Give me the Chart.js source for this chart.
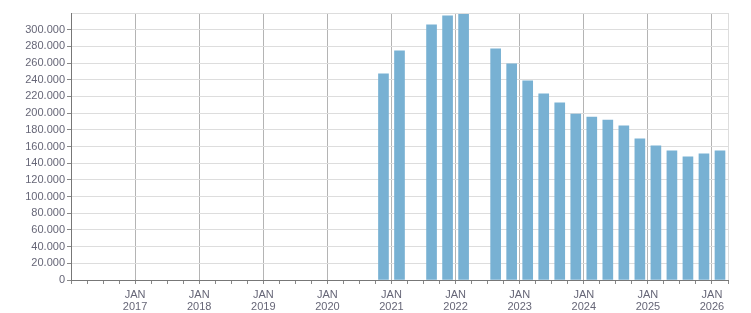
<!DOCTYPE html>
<html>
<head>
<meta charset="utf-8">
<script src="https://cdn.jsdelivr.net/npm/chart.js@4.4.1/dist/chart.umd.min.js"></script>
<style>
  body { margin: 0; background: #fff; }
  #wrap { width: 751px; height: 313px; }
</style>
</head>
<body>
<div id="wrap"><canvas id="chart"></canvas></div>
<script>
'use strict';

// DATA (quarterly)
const periods = [
  '2020 Q4', '2021 Q1', '2021 Q3', '2021 Q4', '2022 Q1', '2022 Q3', '2022 Q4',
  '2023 Q1', '2023 Q2', '2023 Q3', '2023 Q4', '2024 Q1', '2024 Q2', '2024 Q3',
  '2024 Q4', '2025 Q1', '2025 Q2', '2025 Q3', '2025 Q4', '2026 Q1'
];
const values = [
  247000, 274600, 305800, 316500, 318400, 277000, 259000,
  238600, 223000, 212200, 199000, 195400, 191800, 184700,
  169100, 160700, 154700, 147500, 151100, 154700
];
const firstYear = 2016;
const lastYear = 2026;
const monthLabel = 'JAN';
const yMax = 320000;
const yStep = 20000;

// turns '2021 Q3' into a position on the time axis (middle of the quarter)
function periodToX(p) {
  let parts = p.split(' Q');
  return Number(parts[0]) + (Number(parts[1]) - 1) / 4 + 0.125;
}

function isYear(v) {
  return Math.abs(v - Math.round(v)) < 1e-6;
}

// 300000 -> 300.000
function formatNum(v) {
  return String(Math.round(v)).replace(/\B(?=(\d{3})+(?!\d))/g, '.');
}

let points = [];
for (let i = 0; i < periods.length; i++) {
  points.push({ x: periodToX(periods[i]), y: values[i] });
}

const xMin = firstYear;
const xMax = lastYear + 0.25;

Chart.defaults.font.family = '"Liberation Sans", Arial, sans-serif';
Chart.defaults.font.size = 11;
Chart.defaults.color = '#666677';

const ctx = document.getElementById('chart');

new Chart(ctx, {
  type: 'bar',
  data: {
    datasets: [{
      data: points,
      backgroundColor: '#78b1d3',
      borderWidth: 0,
      barThickness: 10
    }]
  },
  options: {
    responsive: true,
    maintainAspectRatio: false,
    animation: false,
    layout: { padding: { top: 13, right: 23, left: 0, bottom: 0 } },
    plugins: {
      legend: { display: false },
      tooltip: { enabled: false }
    },
    scales: {
      x: {
        type: 'linear',
        min: xMin,
        max: xMax,
        offset: false,
        afterBuildTicks: (scale) => {
          let t = [];
          for (let v = xMin; v <= xMax + 1e-6; v += 0.25) {
            t.push({ value: v });
          }
          scale.ticks = t;
        },
        afterFit: (scale) => { scale.height = 33; },
        ticks: {
          autoSkip: false,
          maxRotation: 0,
          padding: 5,
          font: { lineHeight: 1.1 },
          callback: (v) => {
            if (isYear(v) && Math.round(v) > firstYear) {
              return [monthLabel, String(Math.round(v))];
            }
            return '';
          }
        },
        grid: {
          offset: false,
          color: (c) => {
            let v = c.tick ? c.tick.value : 0;
            if (isYear(v)) return '#b4b4b4';
            if (Math.abs(v - xMax) < 1e-6) return '#dddddd';
            return 'rgba(0,0,0,0)';
          },
          tickColor: '#888888',
          tickLength: 4
        },
        border: { color: '#777777' }
      },
      y: {
        min: 0,
        max: yMax,
        afterFit: (scale) => { scale.width = 71; },
        ticks: {
          stepSize: yStep,
          maxTicksLimit: 40,
          includeBounds: false,
          padding: 2,
          callback: (v) => (v >= yMax ? '' : formatNum(v))
        },
        grid: {
          color: '#dddddd',
          tickColor: (c) => (c.tick && c.tick.value >= yMax ? 'rgba(0,0,0,0)' : '#888888'),
          tickLength: 4
        },
        border: { color: '#777777' }
      }
    }
  }
});
</script>
</body>
</html>
